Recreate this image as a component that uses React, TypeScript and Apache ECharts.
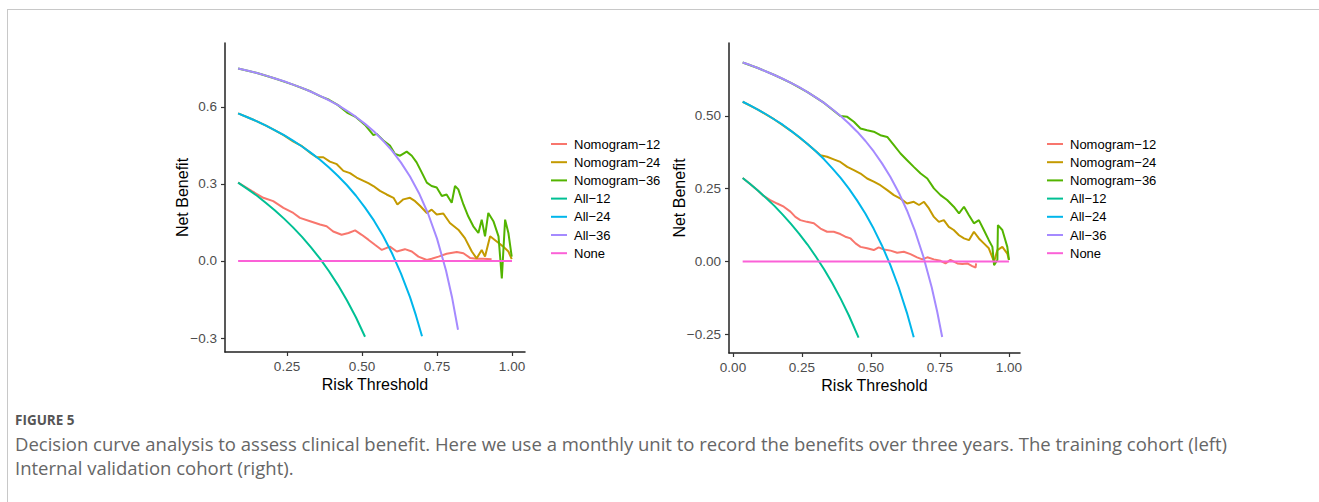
import React, { useEffect, useRef } from "react";
import * as echarts from "echarts";

const SERIES_NAMES = ["Nomogram−12", "Nomogram−24", "Nomogram−36", "All−12", "All−24", "All−36", "None"];
const COLORS = ["#F8766D", "#C49A00", "#53B400", "#00C094", "#00B6EB", "#A58AFF", "#FB61D7"];

// Tick labels
const LEFT_X_TICKS = [0.25, 0.5, 0.75, 1.0];
const LEFT_Y_TICKS = [-0.3, 0.0, 0.3, 0.6];
const RIGHT_X_TICKS = [0.0, 0.25, 0.5, 0.75, 1.0];
const RIGHT_Y_TICKS = [-0.25, 0.0, 0.25, 0.5];

// ---------- Left panel: training cohort ----------
const leftNomo12 = [
  [0.087, 0.305], [0.132, 0.273], [0.171, 0.246], [0.204, 0.233], [0.238, 0.207], [0.271, 0.187],
  [0.293, 0.168], [0.327, 0.155], [0.36, 0.142], [0.382, 0.135], [0.404, 0.115], [0.432, 0.102],
  [0.455, 0.109], [0.477, 0.119], [0.499, 0.102], [0.521, 0.083], [0.543, 0.063], [0.566, 0.043],
  [0.593, 0.056], [0.616, 0.037], [0.643, 0.046], [0.666, 0.037], [0.688, 0.017], [0.716, 0.004],
  [0.732, 0.009], [0.755, 0.017], [0.782, 0.028], [0.816, 0.035], [0.838, 0.03], [0.86, 0.012],
  [0.882, 0.009], [0.905, 0.009], [0.932, 0.007],
];
const leftNomo24 = [
  [0.087, 0.575], [0.12, 0.559], [0.15, 0.544], [0.18, 0.527], [0.21, 0.509], [0.24, 0.489],
  [0.27, 0.466], [0.3, 0.447], [0.33, 0.419], [0.349, 0.404], [0.371, 0.404], [0.393, 0.387],
  [0.416, 0.377], [0.438, 0.351], [0.46, 0.342], [0.482, 0.325], [0.505, 0.312], [0.521, 0.303],
  [0.538, 0.292], [0.56, 0.273], [0.582, 0.259], [0.605, 0.246], [0.618, 0.22], [0.638, 0.24],
  [0.66, 0.246], [0.677, 0.233], [0.694, 0.214], [0.716, 0.187], [0.732, 0.2], [0.749, 0.181],
  [0.771, 0.185], [0.793, 0.148], [0.821, 0.122], [0.843, 0.089], [0.866, 0.037], [0.882, 0.01],
  [0.899, 0.043], [0.91, 0.017], [0.927, 0.096], [0.949, 0.076], [0.971, 0.056], [0.988, 0.037],
  [0.999, 0.007],
];
const leftNomo36 = [
  [0.087, 0.75], [0.15, 0.732], [0.21, 0.711], [0.27, 0.687], [0.33, 0.66], [0.36, 0.642],
  [0.39, 0.628], [0.42, 0.607], [0.45, 0.578], [0.48, 0.56], [0.51, 0.53], [0.538, 0.49],
  [0.549, 0.495], [0.571, 0.469], [0.593, 0.45], [0.61, 0.417], [0.627, 0.41], [0.649, 0.426],
  [0.666, 0.41], [0.682, 0.384], [0.699, 0.345], [0.716, 0.305], [0.732, 0.292], [0.749, 0.286],
  [0.766, 0.253], [0.782, 0.259], [0.799, 0.227], [0.81, 0.292], [0.821, 0.279], [0.838, 0.22],
  [0.854, 0.174], [0.871, 0.135], [0.888, 0.109], [0.899, 0.161], [0.91, 0.096], [0.921, 0.187],
  [0.938, 0.155], [0.955, 0.096], [0.966, -0.068], [0.977, 0.161], [0.988, 0.109], [0.999, 0.017],
];
const leftAll12 = [
  [0.087, 0.305], [0.12, 0.279], [0.15, 0.254], [0.18, 0.226], [0.21, 0.197], [0.24, 0.165],
  [0.27, 0.131], [0.3, 0.094], [0.33, 0.053], [0.36, 0.009], [0.39, -0.04], [0.42, -0.094],
  [0.45, -0.154], [0.48, -0.22], [0.51, -0.295],
];
const leftAll24 = [
  [0.087, 0.575], [0.12, 0.559], [0.15, 0.544], [0.18, 0.527], [0.21, 0.509], [0.24, 0.49],
  [0.27, 0.469], [0.3, 0.446], [0.33, 0.421], [0.36, 0.394], [0.39, 0.364], [0.42, 0.331],
  [0.45, 0.295], [0.48, 0.254], [0.51, 0.208], [0.54, 0.157], [0.57, 0.098], [0.6, 0.03],
  [0.63, -0.049], [0.66, -0.141], [0.68, -0.213], [0.7, -0.293],
];
const leftAll36 = [
  [0.087, 0.75], [0.12, 0.741], [0.15, 0.732], [0.18, 0.722], [0.21, 0.711], [0.24, 0.7],
  [0.27, 0.687], [0.3, 0.674], [0.33, 0.659], [0.36, 0.643], [0.39, 0.626], [0.42, 0.607],
  [0.45, 0.585], [0.48, 0.561], [0.51, 0.534], [0.54, 0.504], [0.57, 0.469], [0.6, 0.43],
  [0.63, 0.383], [0.66, 0.329], [0.69, 0.264], [0.72, 0.185], [0.75, 0.087], [0.78, -0.037],
  [0.8, -0.141], [0.82, -0.268],
];
const leftNone = [[0.087, 0], [1.0, 0]];

// ---------- Right panel: internal validation cohort ----------
const rightNomo12 = [
  [0.035, 0.287], [0.06, 0.268], [0.09, 0.244], [0.111, 0.225], [0.135, 0.211], [0.16, 0.199],
  [0.184, 0.188], [0.208, 0.171], [0.226, 0.153], [0.244, 0.142], [0.268, 0.136], [0.293, 0.131],
  [0.317, 0.113], [0.341, 0.102], [0.365, 0.102], [0.389, 0.094], [0.407, 0.085], [0.426, 0.079],
  [0.444, 0.062], [0.462, 0.05], [0.486, 0.045], [0.51, 0.039], [0.528, 0.048], [0.547, 0.041],
  [0.571, 0.037], [0.595, 0.03], [0.619, 0.033], [0.643, 0.025], [0.667, 0.014], [0.686, 0.007],
  [0.704, 0.014], [0.728, 0.007], [0.752, 0.002], [0.77, -0.007], [0.788, 0.005], [0.813, -0.007],
  [0.831, -0.009], [0.849, -0.007], [0.867, -0.016], [0.879, -0.021], [0.881, -0.007],
];
const rightNomo24 = [
  [0.035, 0.549], [0.09, 0.522], [0.15, 0.488], [0.21, 0.449], [0.27, 0.404], [0.317, 0.365],
  [0.341, 0.36], [0.365, 0.351], [0.389, 0.342], [0.414, 0.325], [0.438, 0.314], [0.462, 0.302],
  [0.486, 0.285], [0.51, 0.274], [0.534, 0.262], [0.559, 0.245], [0.583, 0.228], [0.607, 0.216],
  [0.631, 0.199], [0.655, 0.205], [0.674, 0.194], [0.692, 0.205], [0.71, 0.182], [0.728, 0.153],
  [0.746, 0.136], [0.764, 0.142], [0.782, 0.119], [0.8, 0.108], [0.819, 0.09], [0.837, 0.079],
  [0.855, 0.073], [0.873, 0.102], [0.891, 0.079], [0.909, 0.062], [0.927, 0.045], [0.946, -0.001],
  [0.958, 0.039], [0.976, 0.05], [0.994, 0.027], [1.0, 0.005],
];
const rightNomo36 = [
  [0.035, 0.684], [0.09, 0.665], [0.15, 0.641], [0.21, 0.614], [0.27, 0.582], [0.33, 0.545],
  [0.389, 0.5], [0.414, 0.497], [0.438, 0.48], [0.462, 0.457], [0.486, 0.451], [0.51, 0.446],
  [0.534, 0.434], [0.559, 0.428], [0.583, 0.4], [0.607, 0.371], [0.631, 0.348], [0.655, 0.325],
  [0.68, 0.302], [0.704, 0.285], [0.728, 0.251], [0.752, 0.228], [0.776, 0.211], [0.8, 0.188],
  [0.819, 0.165], [0.837, 0.188], [0.855, 0.159], [0.873, 0.131], [0.891, 0.142], [0.909, 0.108],
  [0.927, 0.073], [0.94, 0.05], [0.946, -0.013], [0.958, 0.005], [0.96, 0.125], [0.976, 0.108],
  [0.994, 0.05], [1.0, 0.005],
];
const rightAll12 = [
  [0.035, 0.287], [0.06, 0.268], [0.09, 0.244], [0.12, 0.218], [0.15, 0.191], [0.18, 0.161],
  [0.21, 0.129], [0.24, 0.095], [0.27, 0.058], [0.3, 0.017], [0.33, -0.027], [0.36, -0.075],
  [0.39, -0.128], [0.42, -0.186], [0.455, -0.262],
];
const rightAll24 = [
  [0.035, 0.549], [0.06, 0.537], [0.09, 0.522], [0.12, 0.506], [0.15, 0.488], [0.18, 0.47],
  [0.21, 0.449], [0.24, 0.428], [0.27, 0.404], [0.3, 0.379], [0.33, 0.351], [0.36, 0.32],
  [0.39, 0.287], [0.42, 0.25], [0.45, 0.209], [0.48, 0.164], [0.51, 0.112], [0.54, 0.054],
  [0.57, -0.012], [0.6, -0.088], [0.63, -0.176], [0.655, -0.261],
];
const rightAll36 = [
  [0.035, 0.684], [0.06, 0.676], [0.09, 0.665], [0.12, 0.653], [0.15, 0.641], [0.18, 0.628],
  [0.21, 0.614], [0.24, 0.599], [0.27, 0.582], [0.3, 0.564], [0.33, 0.545], [0.36, 0.523],
  [0.39, 0.5], [0.42, 0.474], [0.45, 0.446], [0.48, 0.414], [0.51, 0.378], [0.54, 0.337],
  [0.57, 0.291], [0.6, 0.238], [0.63, 0.176], [0.66, 0.103], [0.69, 0.016], [0.72, -0.089],
  [0.74, -0.173], [0.758, -0.26],
];
const rightNone = [[0.035, 0], [1.0, 0]];

const LEFT_DATA = [leftNomo12, leftNomo24, leftNomo36, leftAll12, leftAll24, leftAll36, leftNone];
const RIGHT_DATA = [rightNomo12, rightNomo24, rightNomo36, rightAll12, rightAll24, rightAll36, rightNone];

const CAPTION_TITLE = "FIGURE 5";
const CAPTION_LINE1 =
  "Decision curve analysis to assess clinical benefit. Here we use a monthly unit to record the benefits over three years. The training cohort (left)";
const CAPTION_LINE2 = "Internal validation cohort (right).";

const FONT = "Liberation Sans, Arial, Helvetica, sans-serif";

function fmt(v: number, d: number) {
  const s = Math.abs(v).toFixed(d);
  return v < -1e-9 ? "\u2212" + s : s;
}

function xAxis(gridIndex: number, min: number, max: number, ticks: number[], d: number) {
  return {
    type: "value",
    gridIndex,
    min,
    max,
    name: "Risk Threshold",
    nameLocation: "middle",
    nameGap: 24,
    nameMoveOverlap: false,
    nameTextStyle: { fontFamily: FONT, fontSize: 16, color: "#000", verticalAlign: "top" },
    splitLine: { show: false },
    axisLine: { show: true, onZero: false, lineStyle: { color: "#222", width: 1.5 } },
    axisTick: { show: true, length: 4, customValues: ticks, lineStyle: { color: "#333", width: 1.2 } },
    axisLabel: {
      customValues: ticks,
      formatter: (v: number) => fmt(v, d),
      fontFamily: FONT,
      fontSize: 13.5,
      color: "#4D4D4D",
      margin: 7,
    },
  };
}

function yAxis(gridIndex: number, min: number, max: number, ticks: number[], d: number, gap: number) {
  return {
    type: "value",
    gridIndex,
    min,
    max,
    name: "Net Benefit",
    nameLocation: "middle",
    nameGap: gap,
    nameMoveOverlap: false,
    nameTextStyle: { fontFamily: FONT, fontSize: 16, color: "#000" },
    splitLine: { show: false },
    axisLine: { show: true, onZero: false, lineStyle: { color: "#222", width: 1.5 } },
    axisTick: { show: true, length: 4, customValues: ticks, lineStyle: { color: "#333", width: 1.2 } },
    axisLabel: {
      customValues: ticks,
      formatter: (v: number) => fmt(v, d),
      fontFamily: FONT,
      fontSize: 13.5,
      color: "#4D4D4D",
      margin: 8,
    },
  };
}

function legend(left: number) {
  return {
    orient: "vertical",
    left,
    top: 136,
    padding: 0,
    icon: "rect",
    itemWidth: 16,
    itemHeight: 2,
    itemGap: 2.2,
    selectedMode: false,
    data: SERIES_NAMES,
    textStyle: { fontFamily: FONT, fontSize: 13, color: "#000", lineHeight: 16, padding: [0, 0, 0, 2] },
  };
}

export default function App() {
  const ref = useRef<HTMLDivElement>(null);
  useEffect(() => {
    if (!ref.current) return;
    const chart = echarts.init(ref.current, null, { renderer: "svg" });
    const series: any[] = [];
    [LEFT_DATA, RIGHT_DATA].forEach((set, gi) => {
      set.forEach((data, i) => {
        series.push({
          type: "line",
          name: SERIES_NAMES[i],
          xAxisIndex: gi,
          yAxisIndex: gi,
          data,
          showSymbol: false,
          symbol: "none",
          color: COLORS[i],
          lineStyle: { color: COLORS[i], width: 2 },
          z: 2 + i,
        });
      });
    });
    chart.setOption({
      animation: false,
      backgroundColor: "#fff",
      grid: [
        { left: 225, top: 43, width: 300, height: 309, containLabel: false },
        { left: 729, top: 43, width: 291, height: 310, containLabel: false },
      ],
      xAxis: [
        xAxis(0, 0.0433, 1.0433, LEFT_X_TICKS, 2),
        xAxis(1, -0.0145, 1.04, RIGHT_X_TICKS, 2),
      ],
      yAxis: [
        yAxis(0, -0.3545, 0.849, LEFT_Y_TICKS, 1, 35),
        yAxis(1, -0.315, 0.751, RIGHT_Y_TICKS, 2, 42),
      ],
      legend: [legend(551), legend(1047)],
      series,
      graphic: [
        { type: "line", shape: { x1: 7, y1: 9.5, x2: 1319, y2: 9.5 }, style: { stroke: "#c8c8c8", lineWidth: 1 } },
        { type: "line", shape: { x1: 7.5, y1: 9, x2: 7.5, y2: 502 }, style: { stroke: "#c8c8c8", lineWidth: 1 } },
        {
          type: "text",
          x: 15,
          y: 420,
          style: {
            text: CAPTION_TITLE,
            fontFamily: "Open Sans, sans-serif",
            fontSize: 13.5,
            fontWeight: "bold",
            fill: "#555",
            verticalAlign: "middle",
          },
        },
        {
          type: "text",
          x: 15,
          y: 443,
          style: {
            text: CAPTION_LINE1,
            fontFamily: "Open Sans, sans-serif",
            fontSize: 18.5,
            fill: "#666",
            verticalAlign: "middle",
          },
        },
        {
          type: "text",
          x: 15,
          y: 467,
          style: {
            text: CAPTION_LINE2,
            fontFamily: "Open Sans, sans-serif",
            fontSize: 18.5,
            fill: "#666",
            verticalAlign: "middle",
          },
        },
      ],
    });
    return () => chart.dispose();
  }, []);
  return (
    <div
      ref={ref}
      style={{ position: "absolute", left: 0, top: 0, width: 1319, height: 502 }}
    />
  );
}
